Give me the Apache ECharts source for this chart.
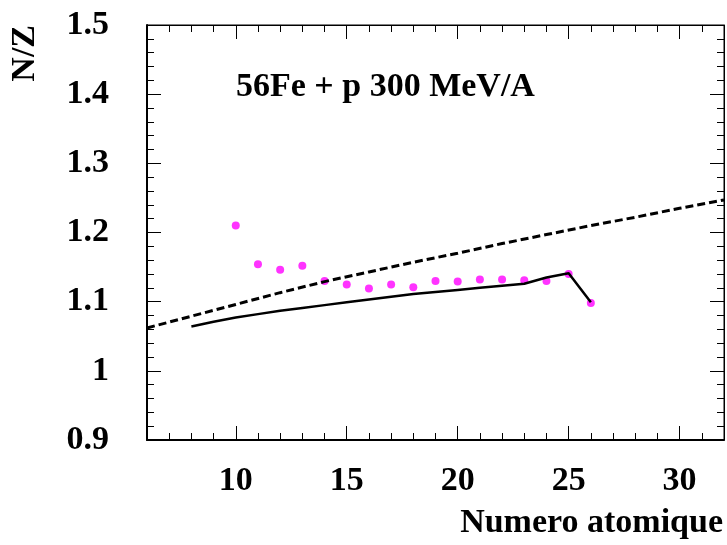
<!DOCTYPE html>
<html>
<head>
<meta charset="utf-8">
<script src="https://cdn.jsdelivr.net/npm/echarts@6/dist/echarts.min.js"></script>
<style>
  html, body { margin: 0; padding: 0; background: #fff; }
  #chart { width: 727px; height: 545px; }
</style>
</head>
<body>
<div id="chart"></div>
<script>
// Measured fragments: N/Z versus atomic number
const zPoints = [10, 11, 12, 13, 14, 15, 16, 17, 18, 19, 20, 21, 22, 23, 24, 25, 26];
const nzPoints = [1.210, 1.154, 1.146, 1.152, 1.130, 1.125, 1.119, 1.125, 1.121, 1.130, 1.129, 1.132, 1.132, 1.131, 1.130, 1.140, 1.098];

// Calculation (solid line)
const zCalc = [8, 9, 10, 11, 12, 13, 14, 15, 16, 17, 18, 19, 20, 21, 22, 23, 24, 25, 26];
const nzCalc = [1.064, 1.071, 1.077, 1.082, 1.087, 1.091, 1.095, 1.099, 1.103, 1.107, 1.111, 1.114, 1.117, 1.120, 1.123, 1.126, 1.135, 1.141, 1.099];

// Stability valley (dashed line)
const zValley = [6, 8, 10, 12, 14, 16, 18, 20, 22, 24, 26, 28, 30, 32];
const nzValley = [1.062, 1.079, 1.096, 1.113, 1.129, 1.143, 1.157, 1.170, 1.184, 1.197, 1.210, 1.222, 1.235, 1.247];

const xMajor = [10, 15, 20, 25, 30];
const xTitle = 'Numero atomique';
const yTitle = 'N/Z';
const label = '56Fe + p 300 MeV/A';

const FONT = 'Liberation Serif';
const FS = 34;
const zip = (xs, ys) => xs.map((x, i) => [x, ys[i]]);

const chart = echarts.init(document.getElementById('chart'), null, { renderer: 'canvas' });

const baseX = {
  type: 'value', min: 6, max: 32, gridIndex: 0,
  splitLine: { show: false }
};

chart.setOption({
  animation: false,
  backgroundColor: '#fff',
  grid: {
    left: 147, top: 25, width: 577, height: 415,
    show: true, borderColor: '#000', borderWidth: 1, backgroundColor: 'transparent'
  },
  xAxis: [
    Object.assign({}, baseX, {
      position: 'bottom', interval: 1,
      axisLine: { show: true, lineStyle: { color: '#000', width: 2 } },
      axisTick: { show: true, inside: true, length: 7, lineStyle: { color: '#000', width: 1 } },
      axisLabel: { show: false }
    }),
    Object.assign({}, baseX, {
      position: 'bottom',
      axisLine: { show: false },
      axisTick: { show: true, inside: true, length: 14, customValues: xMajor, lineStyle: { color: '#000', width: 1 } },
      axisLabel: {
        show: true, customValues: xMajor, margin: 24,
        fontFamily: FONT, fontWeight: 'bold', fontSize: FS, color: '#000'
      }
    }),
    Object.assign({}, baseX, {
      position: 'top', interval: 1,
      axisLine: { show: true, lineStyle: { color: '#000', width: 1 } },
      axisTick: { show: true, inside: true, length: 7, lineStyle: { color: '#000', width: 1 } },
      axisLabel: { show: false }
    }),
    Object.assign({}, baseX, {
      position: 'top',
      axisLine: { show: false },
      axisTick: { show: true, inside: true, length: 14, customValues: xMajor, lineStyle: { color: '#000', width: 1 } },
      axisLabel: { show: false }
    })
  ],
  yAxis: [
    {
      type: 'value', min: 0.9, max: 1.5, interval: 0.1, position: 'left',
      splitLine: { show: false },
      axisLine: { show: true, lineStyle: { color: '#000', width: 2 } },
      axisTick: { show: true, inside: true, length: 14, lineStyle: { color: '#000', width: 1 } },
      minorTick: { show: true, splitNumber: 5, length: 7, lineStyle: { color: '#000', width: 1 } },
      axisLabel: {
        margin: 38, fontFamily: FONT, fontWeight: 'bold', fontSize: FS, color: '#000',
        padding: [6, 0, 0, 0],
        formatter: v => String(Math.round(v * 10) / 10)
      }
    },
    {
      type: 'value', min: 0.9, max: 1.5, interval: 0.1, position: 'right',
      splitLine: { show: false },
      axisLine: { show: true, lineStyle: { color: '#000', width: 1 } },
      axisTick: { show: true, inside: true, length: 14, lineStyle: { color: '#000', width: 1 } },
      minorTick: { show: true, splitNumber: 5, length: 7, lineStyle: { color: '#000', width: 1 } },
      axisLabel: { show: false }
    }
  ],
  series: [
    {
      type: 'line', name: 'valley', xAxisIndex: 0, yAxisIndex: 0,
      data: zip(zValley, nzValley), showSymbol: false, symbol: 'none',
      lineStyle: { color: '#000', width: 3, type: [8, 4] }
    },
    {
      type: 'line', name: 'calc', xAxisIndex: 0, yAxisIndex: 0,
      data: zip(zCalc, nzCalc), showSymbol: false, symbol: 'none',
      lineStyle: { color: '#000', width: 2.5 }
    },
    {
      type: 'scatter', name: 'data', xAxisIndex: 0, yAxisIndex: 0,
      data: zip(zPoints, nzPoints), symbol: 'circle', symbolSize: 8,
      itemStyle: { color: '#ff00ff' }
    }
  ],
  graphic: [
    {
      type: 'text', left: 236, top: 70,
      style: { text: label, fontFamily: FONT, fontWeight: 'bold', fontSize: FS, fill: '#000' }
    },
    {
      type: 'text', right: 4, top: 506,
      style: { text: xTitle, fontFamily: FONT, fontWeight: 'bold', fontSize: FS, fill: '#000' }
    },
    {
      type: 'text', x: 8, y: 25, rotation: Math.PI / 2,
      style: { text: yTitle, fontFamily: FONT, fontWeight: 'bold', fontSize: FS, fill: '#000',
               align: 'right', verticalAlign: 'top' }
    }
  ]
});
</script>
</body>
</html>
